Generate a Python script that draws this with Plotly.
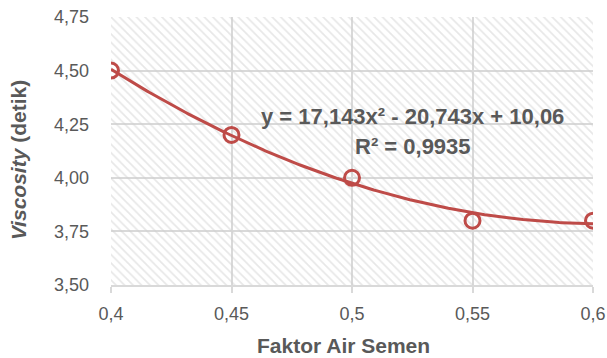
import numpy as np
import plotly.graph_objects as go

# Data
fas = [0.4, 0.45, 0.5, 0.55, 0.6]
viscosity = [4.5, 4.2, 4.0, 3.8, 3.8]

x_ticks = [0.4, 0.45, 0.5, 0.55, 0.6]
x_ticktext = ["0,4", "0,45", "0,5", "0,55", "0,6"]
y_ticks = [3.5, 3.75, 4.0, 4.25, 4.5, 4.75]
y_ticktext = ["3,50", "3,75", "4,00", "4,25", "4,50", "4,75"]

x_title = "<b>Faktor Air Semen</b>"
y_title = "<b><i>Viscosity</i> (detik)</b>"
eq_text = "y = 17,143x² - 20,743x + 10,06"
r2_text = "R² = 0,9935"

RED = "#BE4B48"
GRID = "#D9D9D9"
TXT = "#595959"
FONT = "Liberation Sans, Arial, sans-serif"

# Polynomial trendline (order 2) fitted to the data
coef = np.polyfit(fas, viscosity, 2)
xs = np.linspace(min(fas), max(fas), 201)
ys = np.polyval(coef, xs)

xmin, xmax = x_ticks[0], x_ticks[-1]
ymin, ymax = y_ticks[0], y_ticks[-1]

fig = go.Figure()

# hatched plot-area background
fig.add_trace(go.Scatter(
    x=[xmin, xmax, xmax, xmin, xmin], y=[ymin, ymin, ymax, ymax, ymin],
    fill="toself", mode="lines", line=dict(width=0),
    fillcolor="rgba(0,0,0,0)",
    fillpattern=dict(shape="\\", fgcolor="#CFCFCF", bgcolor="rgba(0,0,0,0)",
                     size=6, solidity=0.28),
    hoverinfo="skip", showlegend=False))

# trendline
fig.add_trace(go.Scatter(x=xs, y=ys, mode="lines",
                         line=dict(color=RED, width=3), showlegend=False))

# data markers
fig.add_trace(go.Scatter(x=fas, y=viscosity, mode="markers",
                         marker=dict(symbol="circle-open", size=15, color=RED,
                                     line=dict(width=3, color=RED)),
                         showlegend=False))

fig.add_annotation(x=0.5253, y=4.284, xref="x", yref="y", text="<b>" + eq_text + "</b>",
                   showarrow=False, font=dict(family=FONT, size=22, color=TXT))
fig.add_annotation(x=0.5253, y=4.148, xref="x", yref="y", text="<b>" + r2_text + "</b>",
                   showarrow=False, font=dict(family=FONT, size=22, color=TXT))

# axis titles
fig.add_annotation(x=0.483, y=-0.224, xref="paper", yref="paper", text=x_title,
                   xanchor="center", yanchor="middle",
                   showarrow=False, font=dict(family=FONT, size=21, color=TXT))
fig.add_annotation(x=0, y=0.466, xref="paper", yref="paper", text=y_title,
                   xanchor="center", yanchor="middle",
                   xshift=-93, textangle=-90,
                   showarrow=False, font=dict(family=FONT, size=21, color=TXT))

fig.update_layout(
    width=607, height=358,
    margin=dict(l=111, r=14, t=17, b=73, autoexpand=False),
    paper_bgcolor="white", plot_bgcolor="white",
    font=dict(family=FONT, size=18, color=TXT),
    xaxis=dict(range=[xmin, xmax], tickvals=x_ticks, ticktext=x_ticktext,
               showgrid=True, gridcolor=GRID, gridwidth=1.5,
               showline=True, linecolor=GRID, linewidth=1.5,
               ticks="outside", ticklen=6, tickcolor=GRID, tickwidth=1.5,
               zeroline=False, ticklabelstandoff=6, automargin=False,
               tickfont=dict(family=FONT, size=18, color=TXT)),
    yaxis=dict(range=[ymin, ymax], tickvals=y_ticks, ticktext=y_ticktext,
               showgrid=True, gridcolor=GRID, gridwidth=1.5,
               showline=False, zeroline=False, ticks="",
               ticklabelstandoff=21, automargin=False,
               tickfont=dict(family=FONT, size=18, color=TXT)),
)

fig.write_html("out.html", config={"displayModeBar": False},
               post_script="document.body.style.margin='0';")
